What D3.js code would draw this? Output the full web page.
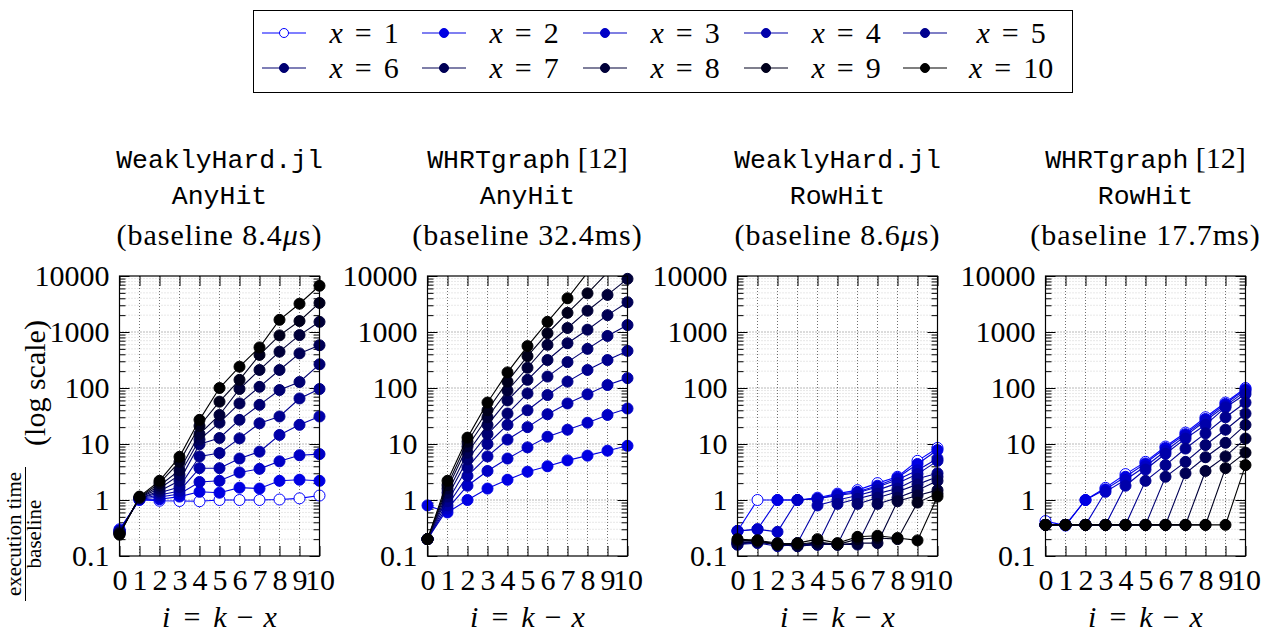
<!DOCTYPE html>
<html>
<head>
<meta charset="utf-8">
<script src="https://cdn.jsdelivr.net/npm/d3@7"></script>
<style>
body{margin:0;background:#fff}
</style>
</head>
<body>
<div id="main"></div>
<script>
const iValues=[0,1,2,3,4,5,6,7,8,9,10]
const xValues=[1,2,3,4,5,6,7,8,9,10]
const yTicks=[0.1,1,10,100,1000,10000]
const yTickLabels=["0.1","1","10","100","1000","10000"]

// one row per x (1..10), one value per i (0..10)
const whAnyHit=[
    [0.3,1.0,0.97,0.96,0.95,1.0,1.0,1.0,1.02,1.07,1.2],
    [0.29,1.02,1.03,1.15,1.4,1.35,1.66,1.6,2.2,2.3,2.2],
    [0.28,1.03,1.13,1.28,2.1,2.2,3.1,3.6,4.9,6.3,6.6],
    [0.28,1.05,1.23,1.45,3.7,3.7,5.5,7.3,14.5,22,31],
    [0.27,1.07,1.35,1.7,6.0,6.9,12.6,23.4,31,65,96],
    [0.26,1.08,1.45,2.2,9.9,12.8,27,50,92,128,265],
    [0.26,1.1,1.6,2.8,12,24,53,105,210,415,580],
    [0.25,1.1,1.8,3.4,15,33,96,210,445,880,1520],
    [0.25,1.12,2.0,4.8,21,57,140,390,870,1570,3300],
    [0.24,1.15,2.2,5.9,27,100,240,530,1650,3200,6700]
]
const whrtAnyHit=[
    null,
    [0.8,0.6,1.0,1.6,2.3,3.2,4.0,5.1,6.2,7.6,9.3],
    [0.2,0.7,1.8,3.3,5.5,8.7,13.5,18,24,33,43],
    [0.2,0.8,2.7,6.0,12,20,34,53,77,113,150],
    [0.2,0.95,3.8,10,22,40,75,130,210,316,460],
    [0.2,1.15,5.3,15,35,80,160,290,500,850,1330],
    [0.2,1.35,7,22,60,140,316,630,1100,2000,3400],
    [0.2,1.6,9,30,90,230,590,1180,2400,4600,8900],
    [0.2,1.85,11,40,130,370,950,2200,4900,11500,27000],
    [0.2,2.2,13,55,190,560,1520,4000,11500,30000,80000]
]
const whRowHit=[
    [0.28,1.0,1.0,1.0,1.1,1.3,1.5,2.0,2.6,5.0,8.5],
    [0.28,0.3,1.0,1.0,1.05,1.25,1.4,1.8,2.5,4.4,7.8],
    [0.28,0.3,0.27,1.0,1.05,1.2,1.35,1.7,2.3,3.4,5.5],
    [0.17,0.18,0.16,0.17,0.8,1.0,1.2,1.5,2.0,2.9,5.0],
    [0.16,0.17,0.15,0.16,0.16,0.85,1.05,1.3,1.6,2.4,3.0],
    [0.16,0.18,0.16,0.15,0.16,0.16,0.85,1.1,1.4,1.9,2.6],
    [0.17,0.18,0.16,0.15,0.16,0.16,0.16,0.85,1.1,1.5,2.2],
    [0.18,0.18,0.16,0.16,0.17,0.16,0.17,0.17,0.95,1.2,1.5],
    [0.19,0.19,0.17,0.16,0.18,0.16,0.2,0.21,0.2,0.9,1.3],
    [0.2,0.19,0.16,0.17,0.2,0.17,0.22,0.23,0.21,0.19,1.15]
]
const whrtRowHit=[
    [0.42,0.35,1.0,1.65,2.9,4.8,9.0,16,30,55,100],
    [0.36,0.36,1.0,1.55,2.6,4.5,8.5,15,28,52,95],
    [0.36,0.36,0.36,1.4,2.3,4.0,7.5,14,26,48,88],
    [0.36,0.36,0.36,0.36,1.8,3.5,6.7,12.5,22,45,78],
    [0.36,0.36,0.36,0.36,0.36,2.2,4.2,8.3,15.5,30,55],
    [0.36,0.36,0.36,0.36,0.36,0.36,2.6,4.8,9.6,18,35],
    [0.36,0.36,0.36,0.36,0.36,0.36,0.36,3.0,5.8,10.5,22],
    [0.36,0.36,0.36,0.36,0.36,0.36,0.36,0.36,3.3,6.0,12.5],
    [0.36,0.36,0.36,0.36,0.36,0.36,0.36,0.36,0.36,3.7,7.0],
    [0.36,0.36,0.36,0.36,0.36,0.36,0.36,0.36,0.36,0.36,4.2]
]

const toolNames=["WeaklyHard.jl","WHRTgraph","WeaklyHard.jl","WHRTgraph"]
const toolCites=["","[12]","","[12]"]
const constraintNames=["AnyHit","AnyHit","RowHit","RowHit"]
const baselineValues=["8.4","32.4","8.6","17.7"]
const baselineUnits=["us","ms","us","ms"]

const panelData=[whAnyHit,whrtAnyHit,whRowHit,whrtRowHit]

const lay={
    panelLeft:[119.5,427.5,737.5,1045.5],
    top:276,
    w:200,
    h:280
}

const SERIF="'Liberation Serif','Times New Roman',serif"
const MONO="'Liberation Mono','DejaVu Sans Mono',monospace"

const colorScale=d3.scaleLinear().domain([1,10]).range(["#0000ff","#000000"])

function initViz()
{
    let svg=d3.select("#main").append("svg")
    .attr("width",1262).attr("height",633)
    .style("font-family",SERIF)
    svg.append("rect").attr("width",1262).attr("height",633).attr("fill","#fff")

    drawLegend(svg)
    for(let p=0;p<4;p++)
    {
        drawPanel(svg,p)
    }
    drawYLabel(svg)
}

function drawLegend(svg)
{
    svg.append("rect")
    .attr("x",253.5).attr("y",10.5).attr("width",819).attr("height",82)
    .attr("fill","none").attr("stroke","black").attr("stroke-width",1)

    let colX=[284,444,605,766,925]
    let rowY=[33,68]
    xValues.forEach((x,k)=>{
        let cx=colX[k%5]
        let cy=rowY[Math.floor(k/5)]
        let col=colorScale(x)
        svg.append("line")
        .attr("x1",cx-22).attr("x2",cx+22).attr("y1",cy).attr("y2",cy)
        .attr("stroke",col).attr("stroke-width",1.1)
        svg.append("circle")
        .attr("cx",cx).attr("cy",cy).attr("r",4.5)
        .attr("fill",k==0?"#fff":col).attr("stroke",col).attr("stroke-width",1)
        let t=svg.append("text")
        .attr("x",k%5==4?cx+86:cx+80).attr("y",cy+10)
        .attr("text-anchor","middle").style("font-size","30px").style("font-family",SERIF)
        t.append("tspan").style("font-style","italic").text("x")
        t.append("tspan").attr("dx",12).text("=")
        t.append("tspan").attr("dx",12).text(x)
    })
}

function drawPanel(svg,p)
{
    let left=lay.panelLeft[p]
    let g=svg.append("g").attr("transform","translate("+left+","+lay.top+")")

    let xScale=d3.scaleLinear().domain([0,10]).range([0,lay.w])
    let yScale=d3.scaleLog().domain([0.1,10000]).range([lay.h,0])

    let minorTicks=[]
    yTicks.slice(0,-1).forEach(d=>{
        for(let m=2;m<=9;m++) minorTicks.push(d*m)
    })

    // grille
    g.selectAll(".minorgrid").data(minorTicks).enter().append("line")
    .attr("x1",0).attr("x2",lay.w)
    .attr("y1",d=>yScale(d)).attr("y2",d=>yScale(d))
    .attr("stroke","#c4c4c4").attr("stroke-width",0.8).attr("stroke-dasharray","1,2")

    g.selectAll(".majorgrid").data(yTicks.slice(1,-1)).enter().append("line")
    .attr("x1",0).attr("x2",lay.w)
    .attr("y1",d=>yScale(d)).attr("y2",d=>yScale(d))
    .attr("stroke","#707070").attr("stroke-width",1).attr("stroke-dasharray","1,2")

    g.selectAll(".vgrid").data(iValues.slice(1,-1)).enter().append("line")
    .attr("x1",d=>xScale(d)).attr("x2",d=>xScale(d))
    .attr("y1",0).attr("y2",lay.h)
    .attr("stroke","#707070").attr("stroke-width",1).attr("stroke-dasharray","1,2")

    // axes, ticks vers l'interieur
    let yLeft=g.append("g")
    .call(d3.axisLeft(yScale).tickValues(yTicks).tickFormat((d,k)=>yTickLabels[k]).tickSize(-10).tickPadding(10))
    yLeft.append("g")
    .call(d3.axisLeft(yScale).tickValues(minorTicks).tickFormat("").tickSize(-6))
    let yRight=g.append("g").attr("transform","translate("+lay.w+",0)")
    .call(d3.axisRight(yScale).tickValues(yTicks).tickFormat("").tickSize(-10))
    yRight.append("g")
    .call(d3.axisRight(yScale).tickValues(minorTicks).tickFormat("").tickSize(-6))
    let xBottom=g.append("g").attr("transform","translate(0,"+lay.h+")")
    .call(d3.axisBottom(xScale).tickValues(iValues).tickFormat(d3.format("d")).tickSize(-10).tickPadding(13))
    let xTop=g.append("g")
    .call(d3.axisTop(xScale).tickValues(iValues).tickFormat("").tickSize(-10))

    ;[yLeft,yRight,xBottom,xTop].forEach(a=>{
        a.selectAll(".domain").remove()
        a.selectAll("line").attr("stroke","#000").attr("stroke-width",1)
        a.selectAll("text").attr("fill","#000")
        .style("font-family",SERIF).style("font-size","30px")
    })

    // courbes
    g.append("clipPath").attr("id","clip"+p)
    .append("rect").attr("x",-20).attr("y",0).attr("width",lay.w+40).attr("height",lay.h)

    let lineGenerator=d3.line()
    .x(d=>xScale(d.i))
    .y(d=>yScale(d.v))

    panelData[p].forEach((vals,k)=>{
        if(!vals) return
        let col=colorScale(xValues[k])
        let pts=vals.map((v,j)=>({i:iValues[j],v:v}))
        g.append("path").datum(pts)
        .attr("clip-path","url(#clip"+p+")")
        .attr("fill","none").attr("stroke",col).attr("stroke-width",1.1)
        .attr("d",lineGenerator)
        g.selectAll(null).data(pts.filter(d=>d.v<=10000)).enter().append("circle")
        .attr("cx",d=>xScale(d.i)).attr("cy",d=>yScale(d.v)).attr("r",5.5)
        .attr("fill",k==0?"#fff":col).attr("stroke",col).attr("stroke-width",1)
    })

    // cadre
    g.append("rect").attr("width",lay.w).attr("height",lay.h)
    .attr("fill","none").attr("stroke","#000").attr("stroke-width",1.2)

    // titre
    let cx=left+lay.w/2
    let t1=svg.append("text").attr("x",cx).attr("y",168).attr("text-anchor","middle")
    t1.append("tspan").style("font-family",MONO).style("font-size","26.5px").text(toolNames[p])
    if(toolCites[p]!="")
    {
        t1.append("tspan").style("font-family",SERIF).style("font-size","30px").text(" "+toolCites[p])
    }
    svg.append("text").attr("x",cx).attr("y",204).attr("text-anchor","middle")
    .style("font-family",MONO).style("font-size","26.5px").text(constraintNames[p])
    let t3=svg.append("text").attr("x",cx).attr("y",245).attr("text-anchor","middle")
    .style("font-family",SERIF).style("font-size","30px").style("letter-spacing","1px")
    t3.append("tspan").text("(baseline "+baselineValues[p])
    if(baselineUnits[p]=="us")
    {
        t3.append("tspan").style("font-style","italic").text("\u03bc")
        t3.append("tspan").text("s)")
    }
    else
    {
        t3.append("tspan").text(baselineUnits[p]+")")
    }

    // label x
    let xl=svg.append("text").attr("x",cx).attr("y",627).attr("text-anchor","middle")
    .style("font-family",SERIF).style("font-size","30px")
    xl.append("tspan").style("font-style","italic").text("i")
    xl.append("tspan").attr("dx",13).text("=")
    xl.append("tspan").attr("dx",13).style("font-style","italic").text("k")
    xl.append("tspan").attr("dx",10).text("\u2212")
    xl.append("tspan").attr("dx",10).style("font-style","italic").text("x")
}

function drawYLabel(svg)
{
    svg.append("text")
    .attr("transform","translate(45,383) rotate(-90)")
    .attr("text-anchor","middle").style("font-family",SERIF).style("font-size","30px")
    .text("(log scale)")

    svg.append("text")
    .attr("transform","translate(21,534) rotate(-90)")
    .attr("text-anchor","middle").style("font-family",SERIF).style("font-size","21px")
    .text("execution time")
    svg.append("line")
    .attr("x1",25.5).attr("x2",25.5).attr("y1",467).attr("y2",601)
    .attr("stroke","#000").attr("stroke-width",1)
    svg.append("text")
    .attr("transform","translate(41,534) rotate(-90)")
    .attr("text-anchor","middle").style("font-family",SERIF).style("font-size","21px")
    .text("baseline")
}

initViz()
</script>
</body>
</html>
